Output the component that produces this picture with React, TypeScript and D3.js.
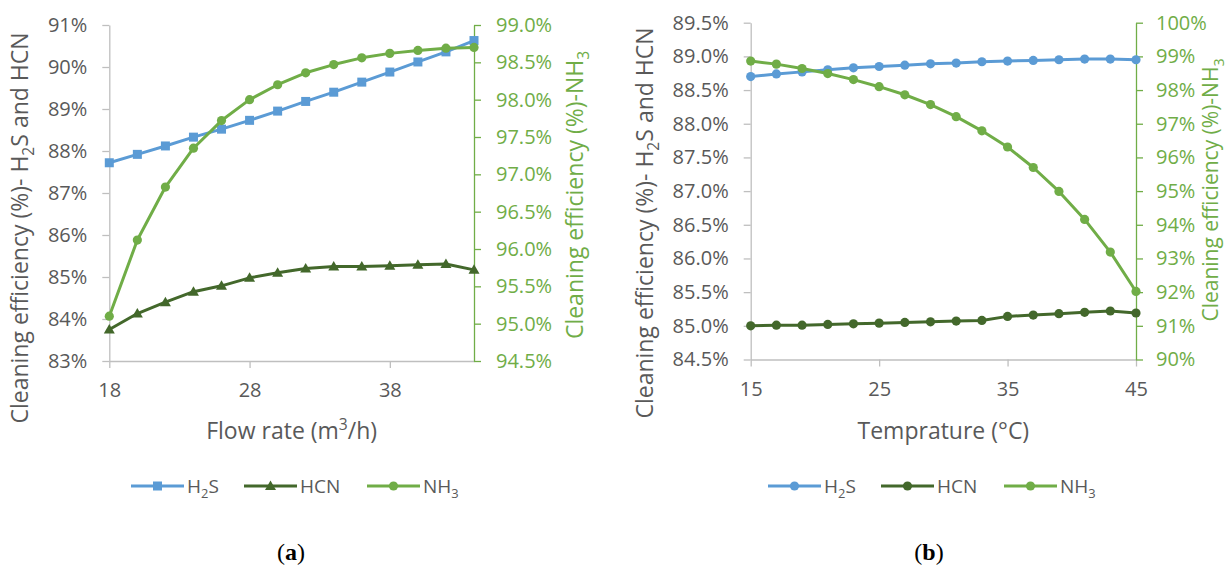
import React, { useEffect, useRef } from 'react';
import * as d3 from 'd3';

// panel (a): flow rate
const flowRate = [18, 20, 22, 24, 26, 28, 30, 32, 34, 36, 38, 40, 42, 44];
const flowH2S = [87.72, 87.92, 88.12, 88.33, 88.52, 88.73, 88.95, 89.18, 89.4, 89.64, 89.88, 90.12, 90.36, 90.63];
const flowHCN = [83.75, 84.13, 84.4, 84.65, 84.79, 84.98, 85.1, 85.2, 85.25, 85.25, 85.27, 85.29, 85.31, 85.17];
const flowNH3 = [95.1, 96.12, 96.83, 97.35, 97.72, 98.0, 98.2, 98.36, 98.47, 98.56, 98.62, 98.66, 98.69, 98.7];
const flowTicks = [18, 28, 38];

// panel (b): temperature
const temperature = [15, 17, 19, 21, 23, 25, 27, 29, 31, 33, 35, 37, 39, 41, 43, 45];
const tempH2S = [88.7, 88.74, 88.77, 88.8, 88.83, 88.85, 88.87, 88.89, 88.9, 88.92, 88.93, 88.94, 88.95, 88.96, 88.96, 88.95];
const tempHCN = [85.0, 85.01, 85.01, 85.02, 85.03, 85.04, 85.05, 85.06, 85.07, 85.08, 85.14, 85.16, 85.18, 85.2, 85.22, 85.19];
const tempNH3 = [98.86, 98.77, 98.64, 98.49, 98.31, 98.1, 97.86, 97.57, 97.21, 96.79, 96.31, 95.7, 94.99, 94.16, 93.19, 92.02];
const tempTicks = [15, 25, 35, 45];

const BLUE = '#5B9BD5';
const DARK = '#43682B';
const GREEN = '#70AD47';
const GREY = '#595959';
const AXIS = '#BFBFBF';
const FONT = '"Open Sans", "Noto Sans", sans-serif';
const TITLE_SIZE = 23;
const TICK_SIZE = 20;
const LEGEND_SIZE = 19;

type Part = { t: string; s?: 'sub' | 'sup' };

const richText = (sel: any, parts: Part[], size: number) => {
  let shift = 0;
  parts.forEach(p => {
    const target = p.s === 'sub' ? size * 0.27 : p.s === 'sup' ? -size * 0.4 : 0;
    sel.append('tspan')
      .attr('dy', target - shift)
      .attr('font-size', p.s ? size * 0.68 : size)
      .text(p.t);
    shift = target;
  });
};

const marker = (g: any, type: string, x: number, y: number, color: string) => {
  if (type === 'square') {
    g.append('rect').attr('x', x - 4.5).attr('y', y - 4.5).attr('width', 9).attr('height', 9).attr('fill', color);
  } else if (type === 'triangle') {
    g.append('path').attr('d', `M${x},${y - 5.5}L${x + 5.5},${y + 4}L${x - 5.5},${y + 4}Z`).attr('fill', color);
  } else {
    g.append('circle').attr('cx', x).attr('cy', y).attr('r', 4.6).attr('fill', color);
  }
};

const drawPanel = (svg: any, cfg: any) => {
  const x = d3.scaleLinear().domain(cfg.xDomain).range(cfg.xRange);
  const yL = d3.scaleLinear().domain(cfg.yLDomain).range(cfg.yRange);
  const yR = d3.scaleLinear().domain(cfg.yRDomain).range(cfg.yRange);
  const [x0, x1] = cfg.xRange;
  const [yb] = cfg.yRange;

  const styleAxis = (g: any, lineColor: string, textColor: string) => {
    g.select('.domain').attr('stroke', lineColor).attr('stroke-width', 1.3);
    g.selectAll('.tick line').attr('stroke', lineColor).attr('stroke-width', 1.3);
    g.selectAll('.tick text').attr('fill', textColor).attr('font-size', TICK_SIZE).attr('font-family', FONT);
  };

  // bottom axis
  svg.append('g')
    .attr('transform', `translate(0,${yb})`)
    .call(d3.axisBottom(x).tickValues(cfg.xTicks).tickSize(7).tickSizeOuter(0).tickPadding(15).tickFormat(d3.format('d')))
    .call((g: any) => styleAxis(g, AXIS, GREY));

  // left axis
  svg.append('g')
    .attr('transform', `translate(${x0},0)`)
    .call(d3.axisLeft(yL).tickValues(cfg.yLTicks).tickSize(7).tickSizeOuter(0).tickPadding(15).tickFormat((d: any) => d3.format(cfg.yLFormat)(d) + '%'))
    .call((g: any) => styleAxis(g, AXIS, GREY));

  // right axis
  svg.append('g')
    .attr('transform', `translate(${x1},0)`)
    .call(d3.axisRight(yR).tickValues(cfg.yRTicks).tickSize(7).tickSizeOuter(0).tickPadding(cfg.rightPad).tickFormat((d: any) => d3.format(cfg.yRFormat)(d) + '%'))
    .call((g: any) => styleAxis(g, GREEN, GREEN));

  // series
  cfg.series.forEach((s: any) => {
    const y = s.axis === 'right' ? yR : yL;
    const pts = cfg.xs.map((v: number, i: number) => [x(v), y(s.values[i])]);
    const g = svg.append('g');
    g.append('path')
      .attr('d', d3.line()(pts))
      .attr('fill', 'none')
      .attr('stroke', s.color)
      .attr('stroke-width', 3)
      .attr('stroke-linejoin', 'round');
    pts.forEach((p: number[]) => marker(g, s.marker, p[0], p[1], s.color));
  });

  // axis titles
  const lt = svg.append('text')
    .attr('transform', `translate(${cfg.leftTitle[0]},${cfg.leftTitle[1]}) rotate(-90)`)
    .attr('text-anchor', 'middle').attr('fill', GREY).attr('font-family', FONT).attr('font-size', TITLE_SIZE);
  richText(lt, [{ t: 'Cleaning efficiency (%)- H' }, { t: '2', s: 'sub' }, { t: 'S and HCN' }], TITLE_SIZE);

  const rt = svg.append('text')
    .attr('transform', `translate(${cfg.rightTitle[0]},${cfg.rightTitle[1]}) rotate(-90)`)
    .attr('text-anchor', 'middle').attr('fill', GREEN).attr('font-family', FONT).attr('font-size', cfg.rightTitleSize);
  richText(rt, [{ t: 'Cleaning efficiency (%)-NH' }, { t: '3', s: 'sub' }], cfg.rightTitleSize);

  const bt = svg.append('text')
    .attr('x', (x0 + x1) / 2).attr('y', cfg.xTitleY)
    .attr('text-anchor', 'middle').attr('fill', GREY).attr('font-family', FONT).attr('font-size', TITLE_SIZE);
  richText(bt, cfg.xTitle, TITLE_SIZE);

  // legend
  cfg.series.forEach((s: any, i: number) => {
    const lx = cfg.legendX[i];
    const ly = cfg.legendY;
    const g = svg.append('g');
    g.append('line').attr('x1', lx).attr('x2', lx + 53).attr('y1', ly).attr('y2', ly)
      .attr('stroke', s.color).attr('stroke-width', 3);
    marker(g, s.marker, lx + 26.5, ly, s.color);
    const t = g.append('text').attr('x', lx + 56).attr('y', ly + 7)
      .attr('fill', GREY).attr('font-family', FONT).attr('font-size', LEGEND_SIZE);
    richText(t, s.label, LEGEND_SIZE);
  });

  // panel label
  const pl = svg.append('text')
    .attr('x', cfg.panelX).attr('y', 560)
    .attr('text-anchor', 'middle').attr('fill', '#000')
    .attr('font-family', '"Liberation Serif", serif').attr('font-size', 24);
  pl.append('tspan').text('(');
  pl.append('tspan').attr('font-weight', 'bold').text(cfg.panel);
  pl.append('tspan').text(')');
};

const labels = {
  h2s: [{ t: 'H' }, { t: '2', s: 'sub' }, { t: 'S' }] as Part[],
  hcn: [{ t: 'HCN' }] as Part[],
  nh3: [{ t: 'NH' }, { t: '3', s: 'sub' }] as Part[],
};

const App = () => {
  const svgRef = useRef<SVGSVGElement>(null);

  useEffect(() => {
    const svg = d3.select(svgRef.current);
    svg.selectAll('*').remove();

    drawPanel(svg, {
      xs: flowRate,
      xDomain: [18, 44], xRange: [109.3, 474],
      yLDomain: [83, 91], yRDomain: [94.5, 99], yRange: [361, 25],
      xTicks: flowTicks,
      yLTicks: d3.range(83, 91.01, 1), yLFormat: '.0f',
      yRTicks: d3.range(94.5, 99.01, 0.5), yRFormat: '.1f', rightPad: 15,
      series: [
        { values: flowH2S, color: BLUE, marker: 'square', axis: 'left', label: labels.h2s },
        { values: flowHCN, color: DARK, marker: 'triangle', axis: 'left', label: labels.hcn },
        { values: flowNH3, color: GREEN, marker: 'circle', axis: 'right', label: labels.nh3 },
      ],
      leftTitle: [28, 228], rightTitle: [583, 195], rightTitleSize: 23,
      xTitle: [{ t: 'Flow rate (m' }, { t: '3', s: 'sup' }, { t: '/h)' }], xTitleY: 439,
      legendX: [131, 244, 367], legendY: 486,
      panel: 'a', panelX: 291,
    });

    drawPanel(svg, {
      xs: temperature,
      xDomain: [15, 45], xRange: [750.7, 1136],
      yLDomain: [84.5, 89.5], yRDomain: [90, 100], yRange: [359.5, 22.7],
      xTicks: tempTicks,
      yLTicks: d3.range(84.5, 89.51, 0.5), yLFormat: '.1f',
      yRTicks: d3.range(90, 100.01, 1), yRFormat: '.0f', rightPad: 13,
      series: [
        { values: tempH2S, color: BLUE, marker: 'circle', axis: 'left', label: labels.h2s },
        { values: tempHCN, color: DARK, marker: 'circle', axis: 'left', label: labels.hcn },
        { values: tempNH3, color: GREEN, marker: 'circle', axis: 'right', label: labels.nh3 },
      ],
      leftTitle: [653, 223], rightTitle: [1218, 190], rightTitleSize: 21,
      xTitle: [{ t: 'Temprature (°C)' }], xTitleY: 439,
      legendX: [768, 881, 1004], legendY: 486,
      panel: 'b', panelX: 929,
    });
  }, []);

  return (
    <svg ref={svgRef} width={1228} height={568}
      style={{ position: 'absolute', left: 0, top: 0, background: '#fff' }} />
  );
};

export default App;
